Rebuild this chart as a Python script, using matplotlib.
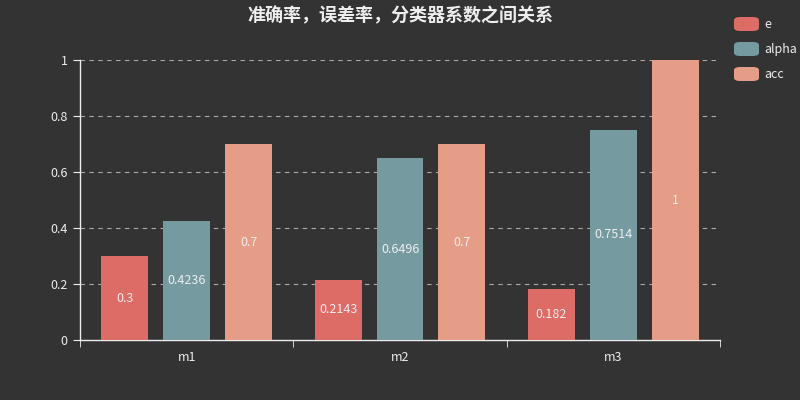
import numpy as np
import matplotlib
matplotlib.use('Agg')
import matplotlib.pyplot as plt
from matplotlib.patches import FancyBboxPatch

plt.rcParams['font.family'] = ['Noto Sans CJK SC', 'DejaVu Sans']

categories = ['m1', 'm2', 'm3']
e = [0.3, 0.2143, 0.182]
alpha = [0.4236, 0.6496, 0.7514]
acc = [0.7, 0.7, 1]
series_names = ['e', 'alpha', 'acc']
colors = ['#dd6b66', '#759aa0', '#e69d87']
bg = '#333333'

fig = plt.figure(figsize=(8, 4), dpi=100, facecolor=bg)
ax = fig.add_axes([0.1, 0.15, 0.8, 0.7], facecolor=bg)

x = np.arange(len(categories))
width = 0.22
offsets = [-0.29, 0, 0.29]
for vals, off, c in zip([e, alpha, acc], offsets, colors):
    bars = ax.bar(x + off, vals, width, color=c, zorder=3)
    for b, v in zip(bars, vals):
        ax.text(b.get_x() + b.get_width() / 2, v / 2, f'{v:g}',
                ha='center', va='center', color='#eeeeee', fontsize=9, zorder=4)

ax.set_xlim(-0.5, 2.5)
ax.set_ylim(0, 1)
ax.set_yticks([0, 0.2, 0.4, 0.6, 0.8, 1])
ax.set_yticklabels(['0', '0.2', '0.4', '0.6', '0.8', '1'])
for yv in [0.2, 0.4, 0.6, 0.8, 1]:
    ax.axhline(yv, color='#aaaaaa', lw=0.8, ls=(0, (4, 4)), zorder=1)

ax.set_xticks(x)
ax.set_xticklabels(categories)
ax.set_xticks([-0.5, 0.5, 1.5, 2.5], minor=True)
ax.tick_params(axis='x', which='major', length=0, colors='#eeeeee', labelsize=9, pad=8)
ax.tick_params(axis='x', which='minor', length=5, color='#eeeeee')
ax.tick_params(axis='y', length=5, color='#eeeeee', colors='#eeeeee', labelsize=9, pad=4)

for s in ['top', 'right']:
    ax.spines[s].set_visible(False)
for s in ['left', 'bottom']:
    ax.spines[s].set_color('#eeeeee')
    ax.spines[s].set_linewidth(1)

fig.text(0.5, 0.96, '准确率，误差率，分类器系数之间关系', ha='center', va='center',
         color='#eeeeee', fontsize=13, fontweight='bold')

# legend top right
for i, (name, c) in enumerate(zip(series_names, colors)):
    yc = 388 - 12 - i * 25
    box = FancyBboxPatch((734 / 800, (yc - 7) / 400), 25 / 800, 14 / 400,
                         boxstyle='round,pad=0,rounding_size=0.008',
                         transform=fig.transFigure, facecolor=c, edgecolor='none')
    fig.patches.append(box)
    fig.text(764 / 800, yc / 400, name, ha='left', va='center', color='#eeeeee', fontsize=9)

fig.savefig('out.png', dpi=100, facecolor=bg)
